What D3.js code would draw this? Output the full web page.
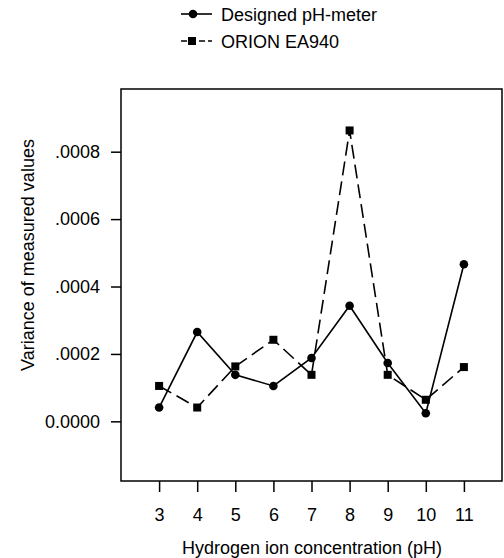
<!DOCTYPE html>
<html>
<head>
<meta charset="utf-8">
<script src="https://cdn.jsdelivr.net/npm/d3@7"></script>
<style>
  body { margin: 0; background: #fff; }
  svg text { font-family: "Liberation Sans", Arial, sans-serif; fill: #000; }
</style>
</head>
<body>
<div id="chart"></div>
<script>
'use strict'
// data
const phLevels = [3, 4, 5, 6, 7, 8, 9, 10, 11];
const designedVar = [0.000041, 0.000265, 0.000138, 0.000105, 0.000188, 0.000343, 0.000173, 0.000024, 0.000466];
const orionVar = [0.000105, 0.000041, 0.000163, 0.000242, 0.000138, 0.000863, 0.000138, 0.000064, 0.000161];
const yTickValues = [0, 0.0002, 0.0004, 0.0006, 0.0008];
const seriesNames = ['Designed pH-meter', 'ORION EA940'];

const width = 504, height = 558;
const margin = {left: 121, top: 89, right: 2, bottom: 77};
const fontSize = '18px';

const svg = d3.select('#chart').append('svg')
  .attr('width', width)
  .attr('height', height);

const x = d3.scaleLinear().domain([2, 12]).range([margin.left, width - margin.right]);
const y = d3.scaleLinear().domain([-0.000177, 0.000986]).range([height - margin.bottom, margin.top]);

// frame
svg.append('rect')
  .attr('x', margin.left)
  .attr('y', margin.top)
  .attr('width', width - margin.left - margin.right)
  .attr('height', height - margin.top - margin.bottom)
  .attr('fill', 'none')
  .attr('stroke', '#000')
  .attr('stroke-width', 1.5);

const fmt = d => d === 0 ? '0.0000' : d3.format('.4f')(d).replace(/^0/, '');

const yAxis = svg.append('g')
  .attr('transform', 'translate(' + margin.left + ',0)')
  .call(d3.axisLeft(y).tickValues(yTickValues).tickFormat(fmt).tickSize(10).tickPadding(11));

const xAxis = svg.append('g')
  .attr('transform', 'translate(0,' + (height - margin.bottom) + ')')
  .call(d3.axisBottom(x).tickValues(phLevels).tickFormat(d3.format('d')).tickSize(11).tickPadding(16));

[yAxis, xAxis].forEach(g => {
  g.select('.domain').remove();
  g.selectAll('line').attr('stroke', '#000').attr('stroke-width', 1.5);
  g.selectAll('text').style('font-size', fontSize).style('font-family', '"Liberation Sans", Arial, sans-serif');
});

// axis titles
svg.append('text')
  .attr('transform', 'translate(34,' + 255 + ') rotate(-90)')
  .attr('text-anchor', 'middle')
  .style('font-size', fontSize)
  .text('Variance of measured values');

svg.append('text')
  .attr('x', 312)
  .attr('y', 554)
  .attr('text-anchor', 'middle')
  .style('font-size', fontSize)
  .text('Hydrogen ion concentration (pH)');

const line = d3.line().x(d => x(d[0])).y(d => y(d[1]));
const designedPts = phLevels.map((p, i) => [p, designedVar[i]]);
const orionPts = phLevels.map((p, i) => [p, orionVar[i]]);

svg.append('path')
  .datum(orionPts)
  .attr('d', line)
  .attr('fill', 'none')
  .attr('stroke', '#000')
  .attr('stroke-width', 1.6)
  .attr('stroke-dasharray', '14,6');

svg.append('path')
  .datum(designedPts)
  .attr('d', line)
  .attr('fill', 'none')
  .attr('stroke', '#000')
  .attr('stroke-width', 1.6);

svg.selectAll('.sq').data(orionPts).enter()
  .append('rect')
    .attr('class', 'sq')
    .attr('x', d => x(d[0]) - 4)
    .attr('y', d => y(d[1]) - 4)
    .attr('width', 8)
    .attr('height', 8)
    .attr('fill', '#000');

svg.selectAll('.dot').data(designedPts).enter()
  .append('circle')
    .attr('class', 'dot')
    .attr('cx', d => x(d[0]))
    .attr('cy', d => y(d[1]))
    .attr('r', 4.3)
    .attr('fill', '#000');

// legend
const legend = svg.append('g');
const legendY = [14, 41];
seriesNames.forEach((name, i) => {
  const g = legend.append('g').attr('transform', 'translate(0,' + legendY[i] + ')');
  g.append('line')
    .attr('x1', 181).attr('x2', 212)
    .attr('stroke', '#000').attr('stroke-width', 1.6)
    .attr('stroke-dasharray', i === 1 ? '6,3' : null);
  if (i === 0) {
    g.append('circle').attr('cx', 193).attr('r', 4.3).attr('fill', '#000');
  } else {
    g.append('rect').attr('x', 188).attr('y', -4).attr('width', 8).attr('height', 8).attr('fill', '#000');
  }
  g.append('text')
    .attr('x', 221)
    .attr('y', 6.5)
    .style('font-size', fontSize)
    .text(name);
});
</script>
</body>
</html>
